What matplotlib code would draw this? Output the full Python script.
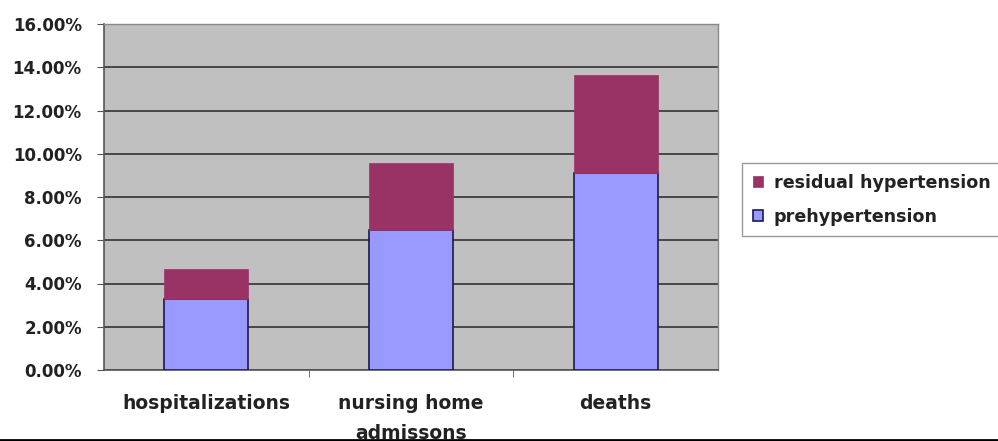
import matplotlib
matplotlib.use("Agg")
import matplotlib.pyplot as plt
from matplotlib.ticker import PercentFormatter, FixedLocator
from matplotlib.lines import Line2D

categories = ["hospitalizations", "nursing home\nadmissons", "deaths"]
prehypertension = [3.30, 6.48, 9.10]
residual_hypertension = [1.38, 3.09, 4.56]
y_ticks = [0, 2, 4, 6, 8, 10, 12, 14, 16]

plt.rcParams["font.family"] = ["DejaVu Sans"]

fig = plt.figure(figsize=(9.98, 4.41), dpi=100)
ax = fig.add_axes([104 / 998, (441 - 370) / 441, 614 / 998, 346 / 441])
ax.set_facecolor("#C0C0C0")

x = list(range(len(categories)))
width = 0.41
ax.bar(x, prehypertension, width, color="#9999FF", edgecolor="#1a1a50",
       linewidth=1.2, zorder=3, label="prehypertension")
ax.bar(x, residual_hypertension, width, bottom=prehypertension,
       color="#993366", edgecolor="#993366", linewidth=0.5, zorder=3,
       label="residual hypertension")

ax.set_xlim(-0.5, len(categories) - 0.5)
ax.set_ylim(0, 16)
ax.yaxis.set_major_locator(FixedLocator(y_ticks))
ax.yaxis.set_major_formatter(PercentFormatter(decimals=2))
ax.grid(axis="y", color="#333333", linewidth=1.2, zorder=1)

for side in ("top", "right"):
    ax.spines[side].set_color("#8a8a8a")
    ax.spines[side].set_linewidth(1.0)
for side in ("left", "bottom"):
    ax.spines[side].set_color("#555555")
    ax.spines[side].set_linewidth(1.2)

ax.set_xticks(x)
ax.set_xticklabels(categories, fontsize=13.5, fontweight="bold", color="#222222",
                   linespacing=1.75)
ax.tick_params(axis="x", length=0, pad=17)
ax.set_xticks([0.5, 1.5], minor=True)
ax.tick_params(axis="x", which="minor", length=5, color="#555555")
ax.tick_params(axis="y", length=5, color="#555555", labelsize=12, pad=11,
               labelcolor="#222222")
for lbl in ax.get_yticklabels():
    lbl.set_fontweight("bold")

handles, labels = ax.get_legend_handles_labels()
leg = fig.legend(handles[::-1], labels[::-1], loc="upper left",
                 bbox_to_anchor=(742 / 998, 1 - 163 / 441),
                 prop={"size": 12.6, "weight": "bold"},
                 frameon=True, fancybox=False, edgecolor="#808080",
                 handlelength=0.6, handleheight=0.6, handletextpad=0.6,
                 borderpad=0.6, labelspacing=0.92, borderaxespad=0)
for t in leg.get_texts():
    t.set_color("#222222")

fig.add_artist(Line2D([0, 1], [1.2 / 441, 1.2 / 441], color="black",
                      linewidth=2, transform=fig.transFigure))

fig.savefig("out.png", dpi=100)
